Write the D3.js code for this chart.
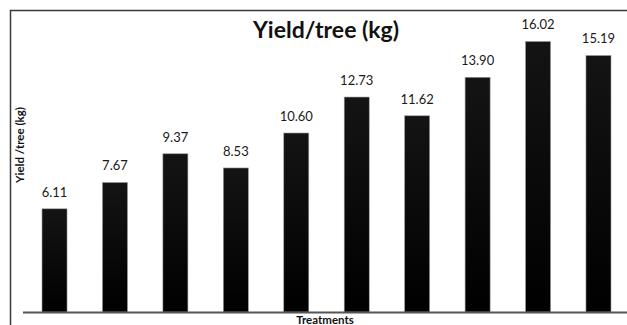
<!DOCTYPE html>
<html>
<head>
<meta charset="utf-8">
<script src="https://cdn.jsdelivr.net/npm/d3@7"></script>
<style>
  html, body { margin: 0; padding: 0; background: #fff; }
  svg { display: block; }
</style>
</head>
<body>
<script>
// Yield per tree for each treatment
const treatments = ["T1", "T2", "T3", "T4", "T5", "T6", "T7", "T8", "T9", "T10"];
const yieldPerTree = [6.11, 7.67, 9.37, 8.53, 10.60, 12.73, 11.62, 13.90, 16.02, 15.19];
const valueLabels = ["6.11", "7.67", "9.37", "8.53", "10.60", "12.73", "11.62", "13.90", "16.02", "15.19"];

const W = 627, H = 325;
const svg = d3.select("body").append("svg").attr("width", W).attr("height", H);

const x = d3.scaleBand()
  .domain(treatments)
  .range([24.3, 628.7])
  .paddingInner(0.586)
  .paddingOuter(0.293);

const y = d3.scaleLinear().domain([0, 16.7]).range([312, 30]);

// chart frame (left and top edges)
svg.append("path")
  .attr("d", `M10.5,${H} L10.5,10.5 L${W},10.5`)
  .attr("fill", "none")
  .attr("stroke", "#3a3a3a")
  .attr("stroke-width", 1.5);

// bar gradient
const defs = svg.append("defs");
const grad = defs.append("linearGradient").attr("id", "barFill")
  .attr("x1", 0).attr("y1", 0).attr("x2", 0).attr("y2", 1);
grad.append("stop").attr("offset", "0%").attr("stop-color", "#141414");
grad.append("stop").attr("offset", "100%").attr("stop-color", "#000");

const data = treatments.map((t, i) => ({ t, v: yieldPerTree[i], label: valueLabels[i] }));

svg.append("g").selectAll("rect")
  .data(data)
  .join("rect")
  .attr("x", d => x(d.t))
  .attr("y", d => y(d.v))
  .attr("width", x.bandwidth())
  .attr("height", d => y(0) - y(d.v))
  .attr("fill", "url(#barFill)")
  .attr("stroke", "#9a9a9a")
  .attr("stroke-width", 0.6);

// value labels
svg.append("g").selectAll("text")
  .data(data)
  .join("text")
  .attr("x", d => x(d.t) + x.bandwidth() / 2)
  .attr("y", d => y(d.v) - 12)
  .attr("text-anchor", "middle")
  .attr("font-family", "Lato, 'Open Sans', sans-serif")
  .attr("font-size", 13)
  .attr("fill", "#1a1a1a")
  .text(d => d.label);

// x axis baseline
const xAxis = d3.axisBottom(x).tickSize(0).tickFormat("");
const gx = svg.append("g").attr("transform", `translate(0,${y(0)})`).call(xAxis);
gx.select(".domain")
  .attr("d", `M23,0.5H${W}`)
  .attr("stroke", "#555")
  .attr("stroke-width", 2);

// title
svg.append("text")
  .attr("x", 326)
  .attr("y", 38)
  .attr("text-anchor", "middle")
  .attr("font-family", "Lato, 'Open Sans', sans-serif")
  .attr("font-weight", "bold")
  .attr("font-size", 23)
  .attr("fill", "#111")
  .text("Yield/tree (kg)");

// y axis title
svg.append("text")
  .attr("transform", "translate(24,145) rotate(-90)")
  .attr("text-anchor", "middle")
  .attr("font-family", "Lato, 'Open Sans', sans-serif")
  .attr("font-weight", "bold")
  .attr("font-size", 11.5)
  .attr("fill", "#111")
  .text("Yield /tree (kg)");

// x axis title
svg.append("text")
  .attr("x", 325)
  .attr("y", 324)
  .attr("text-anchor", "middle")
  .attr("font-family", "Lato, 'Open Sans', sans-serif")
  .attr("font-weight", "bold")
  .attr("font-size", 11.5)
  .attr("fill", "#111")
  .text("Treatments");
</script>
</body>
</html>
